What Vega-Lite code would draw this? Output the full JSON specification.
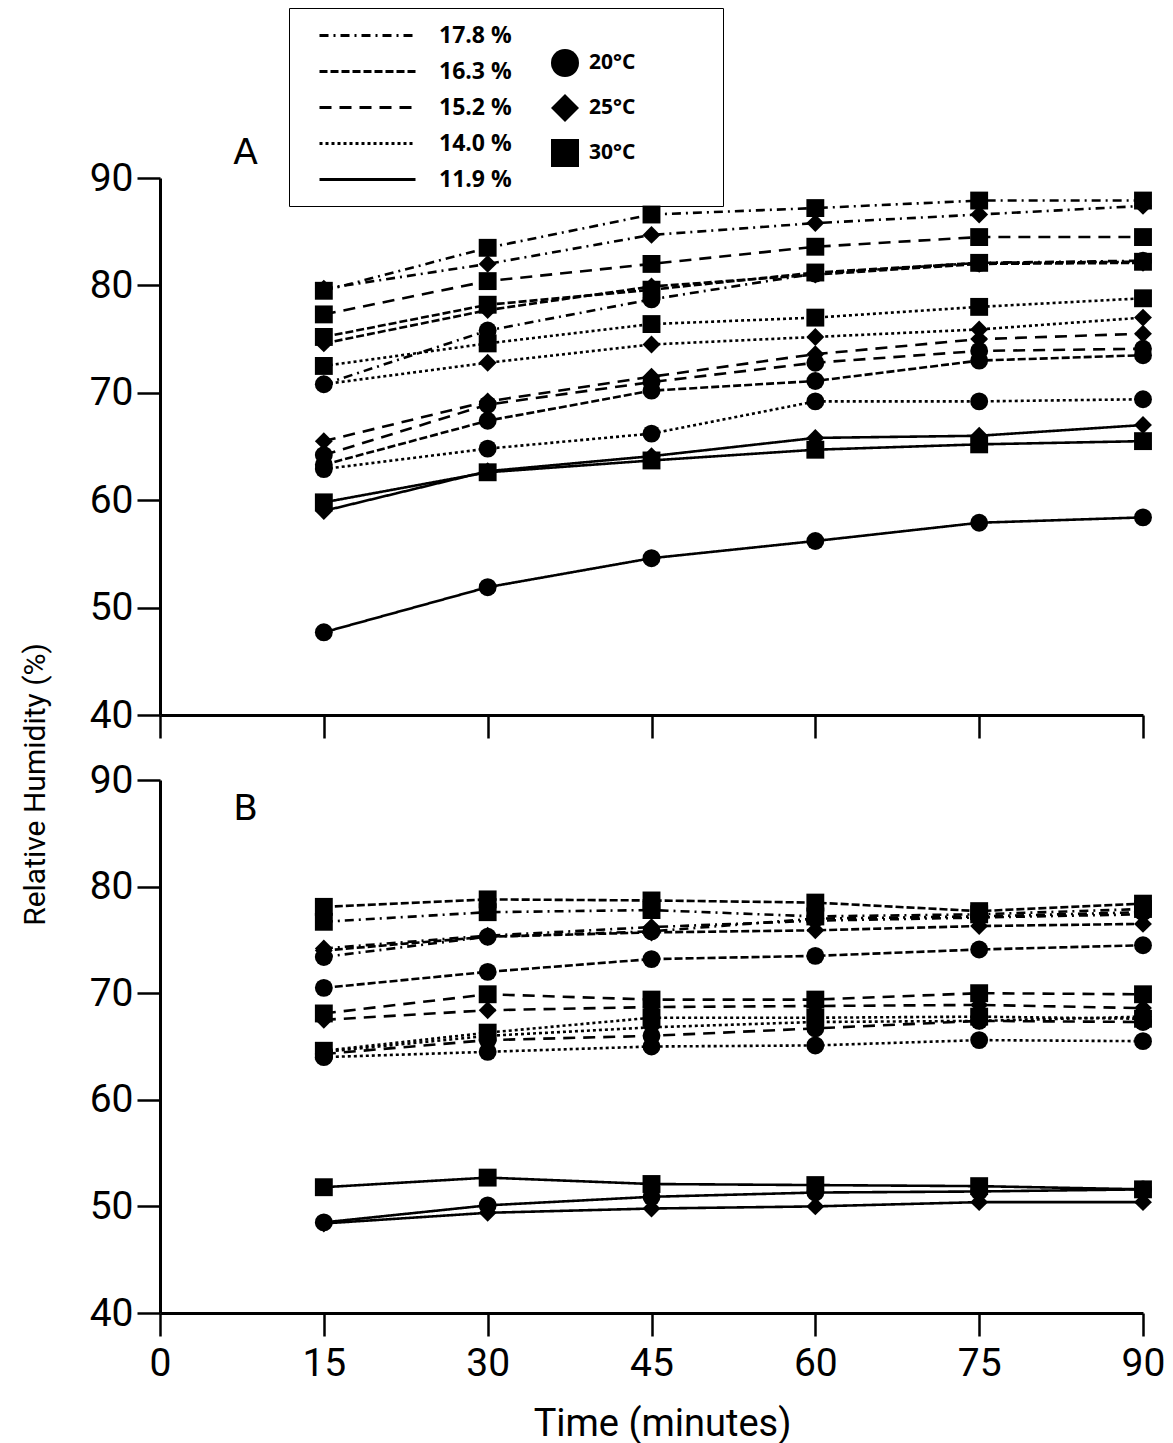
{
"$schema": "https://vega.github.io/schema/vega-lite/v6.json",
"background": "white",
"padding": {"left": 20, "top": 7, "right": 5, "bottom": 5},
"config": {
  "view": {"stroke": null},
  "font": "Roboto",
  "axis": {"domainColor": "black", "domainWidth": 3, "tickColor": "black", "tickWidth": 2.5, "tickSize": 23, "labelFont": "Roboto", "labelFontSize": 39, "labelColor": "black", "labelFlush": false, "grid": false, "titleFont": "Roboto", "titleColor": "black", "titleFontWeight": "normal"}
},
"datasets": {"d": [
{"p":"A","m":"17.8 %","t":"20°C","x":15,"y":70.8},{"p":"A","m":"17.8 %","t":"20°C","x":30,"y":75.8},{"p":"A","m":"17.8 %","t":"20°C","x":45,"y":78.7},{"p":"A","m":"17.8 %","t":"20°C","x":60,"y":81.1},{"p":"A","m":"17.8 %","t":"20°C","x":75,"y":82.1},{"p":"A","m":"17.8 %","t":"20°C","x":90,"y":82.3},
{"p":"A","m":"17.8 %","t":"25°C","x":15,"y":79.7},{"p":"A","m":"17.8 %","t":"25°C","x":30,"y":82.0},{"p":"A","m":"17.8 %","t":"25°C","x":45,"y":84.7},{"p":"A","m":"17.8 %","t":"25°C","x":60,"y":85.8},{"p":"A","m":"17.8 %","t":"25°C","x":75,"y":86.6},{"p":"A","m":"17.8 %","t":"25°C","x":90,"y":87.4},
{"p":"A","m":"17.8 %","t":"30°C","x":15,"y":79.5},{"p":"A","m":"17.8 %","t":"30°C","x":30,"y":83.5},{"p":"A","m":"17.8 %","t":"30°C","x":45,"y":86.6},{"p":"A","m":"17.8 %","t":"30°C","x":60,"y":87.2},{"p":"A","m":"17.8 %","t":"30°C","x":75,"y":87.9},{"p":"A","m":"17.8 %","t":"30°C","x":90,"y":87.9},
{"p":"A","m":"16.3 %","t":"20°C","x":15,"y":63.3},{"p":"A","m":"16.3 %","t":"20°C","x":30,"y":67.4},{"p":"A","m":"16.3 %","t":"20°C","x":45,"y":70.2},{"p":"A","m":"16.3 %","t":"20°C","x":60,"y":71.1},{"p":"A","m":"16.3 %","t":"20°C","x":75,"y":73.0},{"p":"A","m":"16.3 %","t":"20°C","x":90,"y":73.5},
{"p":"A","m":"16.3 %","t":"25°C","x":15,"y":74.6},{"p":"A","m":"16.3 %","t":"25°C","x":30,"y":77.7},{"p":"A","m":"16.3 %","t":"25°C","x":45,"y":79.9},{"p":"A","m":"16.3 %","t":"25°C","x":60,"y":81.0},{"p":"A","m":"16.3 %","t":"25°C","x":75,"y":82.0},{"p":"A","m":"16.3 %","t":"25°C","x":90,"y":82.1},
{"p":"A","m":"16.3 %","t":"30°C","x":15,"y":75.2},{"p":"A","m":"16.3 %","t":"30°C","x":30,"y":78.2},{"p":"A","m":"16.3 %","t":"30°C","x":45,"y":79.6},{"p":"A","m":"16.3 %","t":"30°C","x":60,"y":81.2},{"p":"A","m":"16.3 %","t":"30°C","x":75,"y":82.1},{"p":"A","m":"16.3 %","t":"30°C","x":90,"y":82.2},
{"p":"A","m":"15.2 %","t":"20°C","x":15,"y":64.2},{"p":"A","m":"15.2 %","t":"20°C","x":30,"y":68.9},{"p":"A","m":"15.2 %","t":"20°C","x":45,"y":71.0},{"p":"A","m":"15.2 %","t":"20°C","x":60,"y":72.8},{"p":"A","m":"15.2 %","t":"20°C","x":75,"y":73.9},{"p":"A","m":"15.2 %","t":"20°C","x":90,"y":74.1},
{"p":"A","m":"15.2 %","t":"25°C","x":15,"y":65.5},{"p":"A","m":"15.2 %","t":"25°C","x":30,"y":69.2},{"p":"A","m":"15.2 %","t":"25°C","x":45,"y":71.5},{"p":"A","m":"15.2 %","t":"25°C","x":60,"y":73.6},{"p":"A","m":"15.2 %","t":"25°C","x":75,"y":75.0},{"p":"A","m":"15.2 %","t":"25°C","x":90,"y":75.5},
{"p":"A","m":"15.2 %","t":"30°C","x":15,"y":77.3},{"p":"A","m":"15.2 %","t":"30°C","x":30,"y":80.4},{"p":"A","m":"15.2 %","t":"30°C","x":45,"y":82.0},{"p":"A","m":"15.2 %","t":"30°C","x":60,"y":83.6},{"p":"A","m":"15.2 %","t":"30°C","x":75,"y":84.5},{"p":"A","m":"15.2 %","t":"30°C","x":90,"y":84.5},
{"p":"A","m":"14.0 %","t":"20°C","x":15,"y":62.9},{"p":"A","m":"14.0 %","t":"20°C","x":30,"y":64.8},{"p":"A","m":"14.0 %","t":"20°C","x":45,"y":66.2},{"p":"A","m":"14.0 %","t":"20°C","x":60,"y":69.2},{"p":"A","m":"14.0 %","t":"20°C","x":75,"y":69.2},{"p":"A","m":"14.0 %","t":"20°C","x":90,"y":69.4},
{"p":"A","m":"14.0 %","t":"25°C","x":15,"y":70.8},{"p":"A","m":"14.0 %","t":"25°C","x":30,"y":72.8},{"p":"A","m":"14.0 %","t":"25°C","x":45,"y":74.5},{"p":"A","m":"14.0 %","t":"25°C","x":60,"y":75.2},{"p":"A","m":"14.0 %","t":"25°C","x":75,"y":75.9},{"p":"A","m":"14.0 %","t":"25°C","x":90,"y":77.0},
{"p":"A","m":"14.0 %","t":"30°C","x":15,"y":72.5},{"p":"A","m":"14.0 %","t":"30°C","x":30,"y":74.6},{"p":"A","m":"14.0 %","t":"30°C","x":45,"y":76.4},{"p":"A","m":"14.0 %","t":"30°C","x":60,"y":77.0},{"p":"A","m":"14.0 %","t":"30°C","x":75,"y":78.0},{"p":"A","m":"14.0 %","t":"30°C","x":90,"y":78.8},
{"p":"A","m":"11.9 %","t":"20°C","x":15,"y":47.7},{"p":"A","m":"11.9 %","t":"20°C","x":30,"y":51.9},{"p":"A","m":"11.9 %","t":"20°C","x":45,"y":54.6},{"p":"A","m":"11.9 %","t":"20°C","x":60,"y":56.2},{"p":"A","m":"11.9 %","t":"20°C","x":75,"y":57.9},{"p":"A","m":"11.9 %","t":"20°C","x":90,"y":58.4},
{"p":"A","m":"11.9 %","t":"25°C","x":15,"y":59.0},{"p":"A","m":"11.9 %","t":"25°C","x":30,"y":62.7},{"p":"A","m":"11.9 %","t":"25°C","x":45,"y":64.1},{"p":"A","m":"11.9 %","t":"25°C","x":60,"y":65.8},{"p":"A","m":"11.9 %","t":"25°C","x":75,"y":66.0},{"p":"A","m":"11.9 %","t":"25°C","x":90,"y":67.0},
{"p":"A","m":"11.9 %","t":"30°C","x":15,"y":59.8},{"p":"A","m":"11.9 %","t":"30°C","x":30,"y":62.6},{"p":"A","m":"11.9 %","t":"30°C","x":45,"y":63.7},{"p":"A","m":"11.9 %","t":"30°C","x":60,"y":64.7},{"p":"A","m":"11.9 %","t":"30°C","x":75,"y":65.2},{"p":"A","m":"11.9 %","t":"30°C","x":90,"y":65.5},
{"p":"B","m":"17.8 %","t":"20°C","x":15,"y":73.4},{"p":"B","m":"17.8 %","t":"20°C","x":30,"y":75.3},{"p":"B","m":"17.8 %","t":"20°C","x":45,"y":75.8},{"p":"B","m":"17.8 %","t":"20°C","x":60,"y":77.0},{"p":"B","m":"17.8 %","t":"20°C","x":75,"y":77.2},{"p":"B","m":"17.8 %","t":"20°C","x":90,"y":77.6},
{"p":"B","m":"17.8 %","t":"25°C","x":15,"y":74.2},{"p":"B","m":"17.8 %","t":"25°C","x":30,"y":75.4},{"p":"B","m":"17.8 %","t":"25°C","x":45,"y":76.2},{"p":"B","m":"17.8 %","t":"25°C","x":60,"y":76.8},{"p":"B","m":"17.8 %","t":"25°C","x":75,"y":77.1},{"p":"B","m":"17.8 %","t":"25°C","x":90,"y":77.4},
{"p":"B","m":"17.8 %","t":"30°C","x":15,"y":76.7},{"p":"B","m":"17.8 %","t":"30°C","x":30,"y":77.6},{"p":"B","m":"17.8 %","t":"30°C","x":45,"y":77.8},{"p":"B","m":"17.8 %","t":"30°C","x":60,"y":77.2},{"p":"B","m":"17.8 %","t":"30°C","x":75,"y":77.4},{"p":"B","m":"17.8 %","t":"30°C","x":90,"y":77.9},
{"p":"B","m":"16.3 %","t":"20°C","x":15,"y":70.5},{"p":"B","m":"16.3 %","t":"20°C","x":30,"y":72.0},{"p":"B","m":"16.3 %","t":"20°C","x":45,"y":73.2},{"p":"B","m":"16.3 %","t":"20°C","x":60,"y":73.5},{"p":"B","m":"16.3 %","t":"20°C","x":75,"y":74.1},{"p":"B","m":"16.3 %","t":"20°C","x":90,"y":74.5},
{"p":"B","m":"16.3 %","t":"25°C","x":15,"y":74.0},{"p":"B","m":"16.3 %","t":"25°C","x":30,"y":75.3},{"p":"B","m":"16.3 %","t":"25°C","x":45,"y":75.7},{"p":"B","m":"16.3 %","t":"25°C","x":60,"y":75.9},{"p":"B","m":"16.3 %","t":"25°C","x":75,"y":76.3},{"p":"B","m":"16.3 %","t":"25°C","x":90,"y":76.5},
{"p":"B","m":"16.3 %","t":"30°C","x":15,"y":78.1},{"p":"B","m":"16.3 %","t":"30°C","x":30,"y":78.8},{"p":"B","m":"16.3 %","t":"30°C","x":45,"y":78.7},{"p":"B","m":"16.3 %","t":"30°C","x":60,"y":78.5},{"p":"B","m":"16.3 %","t":"30°C","x":75,"y":77.7},{"p":"B","m":"16.3 %","t":"30°C","x":90,"y":78.4},
{"p":"B","m":"15.2 %","t":"20°C","x":15,"y":64.3},{"p":"B","m":"15.2 %","t":"20°C","x":30,"y":65.6},{"p":"B","m":"15.2 %","t":"20°C","x":45,"y":66.0},{"p":"B","m":"15.2 %","t":"20°C","x":60,"y":66.7},{"p":"B","m":"15.2 %","t":"20°C","x":75,"y":67.4},{"p":"B","m":"15.2 %","t":"20°C","x":90,"y":67.3},
{"p":"B","m":"15.2 %","t":"25°C","x":15,"y":67.5},{"p":"B","m":"15.2 %","t":"25°C","x":30,"y":68.4},{"p":"B","m":"15.2 %","t":"25°C","x":45,"y":68.7},{"p":"B","m":"15.2 %","t":"25°C","x":60,"y":68.8},{"p":"B","m":"15.2 %","t":"25°C","x":75,"y":68.9},{"p":"B","m":"15.2 %","t":"25°C","x":90,"y":68.6},
{"p":"B","m":"15.2 %","t":"30°C","x":15,"y":68.1},{"p":"B","m":"15.2 %","t":"30°C","x":30,"y":69.9},{"p":"B","m":"15.2 %","t":"30°C","x":45,"y":69.4},{"p":"B","m":"15.2 %","t":"30°C","x":60,"y":69.4},{"p":"B","m":"15.2 %","t":"30°C","x":75,"y":70.0},{"p":"B","m":"15.2 %","t":"30°C","x":90,"y":69.9},
{"p":"B","m":"14.0 %","t":"20°C","x":15,"y":64.0},{"p":"B","m":"14.0 %","t":"20°C","x":30,"y":64.5},{"p":"B","m":"14.0 %","t":"20°C","x":45,"y":65.0},{"p":"B","m":"14.0 %","t":"20°C","x":60,"y":65.1},{"p":"B","m":"14.0 %","t":"20°C","x":75,"y":65.6},{"p":"B","m":"14.0 %","t":"20°C","x":90,"y":65.5},
{"p":"B","m":"14.0 %","t":"25°C","x":15,"y":64.5},{"p":"B","m":"14.0 %","t":"25°C","x":30,"y":66.0},{"p":"B","m":"14.0 %","t":"25°C","x":45,"y":66.8},{"p":"B","m":"14.0 %","t":"25°C","x":60,"y":67.3},{"p":"B","m":"14.0 %","t":"25°C","x":75,"y":67.4},{"p":"B","m":"14.0 %","t":"25°C","x":90,"y":67.8},
{"p":"B","m":"14.0 %","t":"30°C","x":15,"y":64.6},{"p":"B","m":"14.0 %","t":"30°C","x":30,"y":66.3},{"p":"B","m":"14.0 %","t":"30°C","x":45,"y":67.7},{"p":"B","m":"14.0 %","t":"30°C","x":60,"y":67.7},{"p":"B","m":"14.0 %","t":"30°C","x":75,"y":67.8},{"p":"B","m":"14.0 %","t":"30°C","x":90,"y":67.6},
{"p":"B","m":"11.9 %","t":"20°C","x":15,"y":48.5},{"p":"B","m":"11.9 %","t":"20°C","x":30,"y":50.1},{"p":"B","m":"11.9 %","t":"20°C","x":45,"y":50.9},{"p":"B","m":"11.9 %","t":"20°C","x":60,"y":51.3},{"p":"B","m":"11.9 %","t":"20°C","x":75,"y":51.4},{"p":"B","m":"11.9 %","t":"20°C","x":90,"y":51.6},
{"p":"B","m":"11.9 %","t":"25°C","x":15,"y":48.4},{"p":"B","m":"11.9 %","t":"25°C","x":30,"y":49.4},{"p":"B","m":"11.9 %","t":"25°C","x":45,"y":49.8},{"p":"B","m":"11.9 %","t":"25°C","x":60,"y":50.0},{"p":"B","m":"11.9 %","t":"25°C","x":75,"y":50.4},{"p":"B","m":"11.9 %","t":"25°C","x":90,"y":50.4},
{"p":"B","m":"11.9 %","t":"30°C","x":15,"y":51.8},{"p":"B","m":"11.9 %","t":"30°C","x":30,"y":52.7},{"p":"B","m":"11.9 %","t":"30°C","x":45,"y":52.1},{"p":"B","m":"11.9 %","t":"30°C","x":60,"y":52.0},{"p":"B","m":"11.9 %","t":"30°C","x":75,"y":51.9},{"p":"B","m":"11.9 %","t":"30°C","x":90,"y":51.6}
]},
"spacing": 65,
"bounds": "flush",
"resolve": {"scale": {"strokeDash": "independent", "shape": "independent"}},
"vconcat": [
{
  "width": 983, "height": 537,
  "data": {"name": "d"},
  "transform": [{"filter": "datum.p === 'A'"}],
  "encoding": {
    "x": {"field": "x", "type": "quantitative", "scale": {"domain": [0, 90], "nice": false}, "axis": {"values": [0, 15, 30, 45, 60, 75, 90], "labels": false, "title": "A", "titleX": 85, "titleY": -552, "titleAngle": 0, "titleAlign": "center", "titleBaseline": "alphabetic", "titleFont": "DejaVu Sans", "titleFontSize": 36}},
    "y": {"field": "y", "type": "quantitative", "scale": {"domain": [40, 90], "nice": false, "zero": false}, "axis": {"values": [40, 50, 60, 70, 80, 90], "labelPadding": 4, "title": "Relative Humidity (%)", "titleFontSize": 30, "titleX": -125, "titleY": 606, "titleAngle": -90, "titleAlign": "center", "titleBaseline": "middle"}}
  },
  "layer": [
    {"mark": {"type": "line", "color": "black", "strokeWidth": 2.6},
     "encoding": {
       "detail": {"field": "t"},
       "strokeDash": {"field": "m", "type": "nominal",
         "scale": {"domain": ["17.8 %", "16.3 %", "15.2 %", "14.0 %", "11.9 %"], "range": [[9, 5, 2, 5], [8, 3], [12, 8], [3, 3], [1, 0]]},
         "legend": {"orient": "none", "legendX": 129, "legendY": -170, "title": "\u00a0", "titleOrient": "right", "titlePadding": 197, "padding": 14, "strokeColor": "black",
           "symbolType": "M0.25,0H8.25", "symbolSize": 576, "symbolStrokeWidth": 3, "symbolStrokeColor": "black", "labelOffset": 109, "rowPadding": 10,
           "labelFont": "Open Sans", "labelFontSize": 23, "labelFontWeight": "bold", "labelColor": "black"}}
     }},
    {"mark": {"type": "point", "filled": true, "color": "black", "opacity": 1, "size": 320},
     "encoding": {
       "shape": {"field": "t", "type": "nominal",
         "scale": {"domain": ["20°C", "25°C", "30°C"], "range": ["circle", "diamond", "square"]},
         "legend": {"orient": "none", "legendX": 390, "legendY": -130, "title": null, "symbolSize": 784, "rowPadding": 11, "labelOffset": 9,
           "symbolFillColor": "black", "symbolStrokeColor": "black", "labelFont": "Open Sans", "labelFontSize": 21, "labelFontWeight": "bold", "labelColor": "black"}}
     }}
  ]
},
{
  "width": 983, "height": 533,
  "data": {"name": "d"},
  "transform": [{"filter": "datum.p === 'B'"}],
  "encoding": {
    "x": {"field": "x", "type": "quantitative", "scale": {"domain": [0, 90], "nice": false}, "axis": {"values": [0, 15, 30, 45, 60, 75, 90], "title": "Time (minutes)", "titleFontSize": 38, "titlePadding": 22, "titleX": 502, "titleAlign": "center", "labelPadding": 8}},
    "y": {"field": "y", "type": "quantitative", "scale": {"domain": [40, 90], "nice": false, "zero": false}, "axis": {"values": [40, 50, 60, 70, 80, 90], "labelPadding": 4, "title": "B", "titleX": 85, "titleY": 39, "titleAngle": 0, "titleAlign": "center", "titleBaseline": "alphabetic", "titleFont": "DejaVu Sans", "titleFontSize": 36}}
  },
  "layer": [
    {"mark": {"type": "line", "color": "black", "strokeWidth": 2.6},
     "encoding": {
       "detail": {"field": "t"},
       "strokeDash": {"field": "m", "type": "nominal",
         "scale": {"domain": ["17.8 %", "16.3 %", "15.2 %", "14.0 %", "11.9 %"], "range": [[9, 5, 2, 5], [8, 3], [12, 8], [3, 3], [1, 0]]},
         "legend": null}
     }},
    {"mark": {"type": "point", "filled": true, "color": "black", "opacity": 1, "size": 320},
     "encoding": {
       "shape": {"field": "t", "type": "nominal",
         "scale": {"domain": ["20°C", "25°C", "30°C"], "range": ["circle", "diamond", "square"]},
         "legend": null}
     }}
  ]
}
]
}
